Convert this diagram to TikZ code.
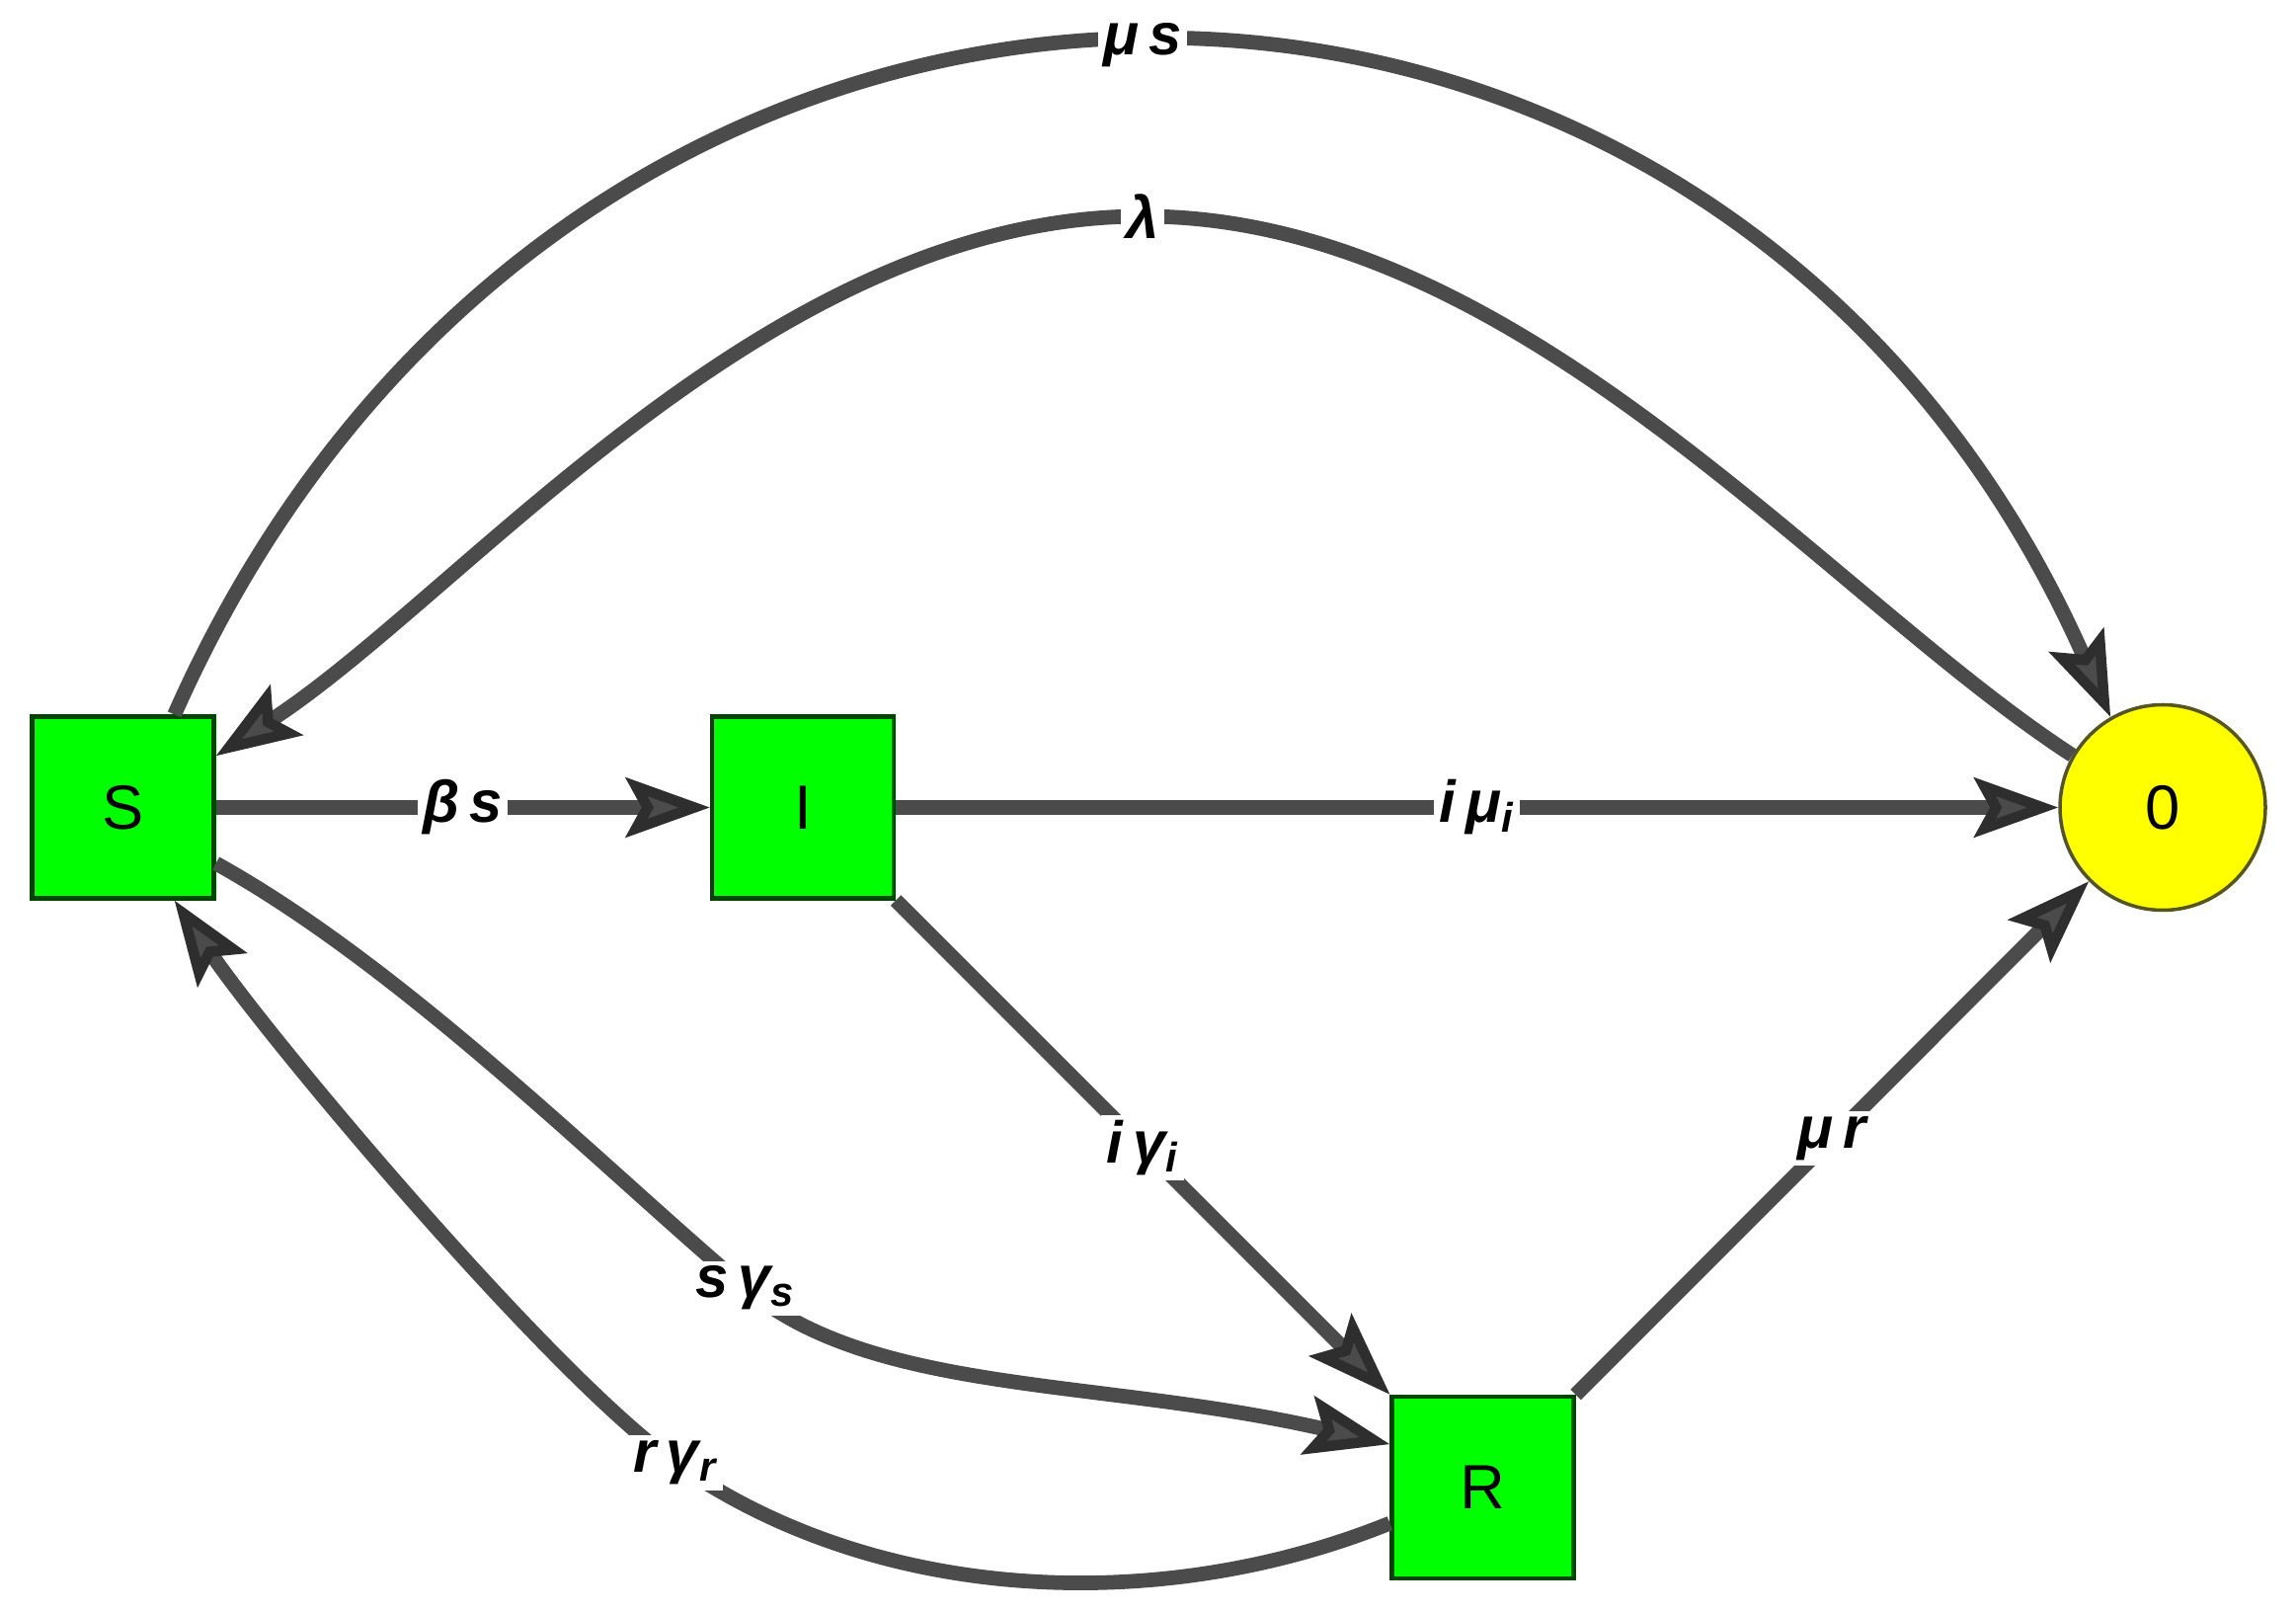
\documentclass[tikz,border=0pt]{standalone}
\usepackage{fontspec}
\setmainfont{Liberation Sans}
\setsansfont{Liberation Sans}
\usetikzlibrary{arrows.meta,positioning}

\definecolor{boxgreen}{RGB}{0,255,0}
\definecolor{boxedge}{RGB}{0,70,0}
\definecolor{sinkyellow}{RGB}{255,255,0}
\definecolor{sinkedge}{RGB}{85,85,30}
\definecolor{flowgray}{RGB}{75,75,75}

\begin{document}
\begin{tikzpicture}[node distance=6.885cm,on grid,
    >={Stealth[length=0.85cm,width=0.6cm,inset=0.16cm,line width=3pt,color=black!82,fill=flowgray]},
    compartment/.style={draw=boxedge,line width=1.2pt,fill=boxgreen,minimum size=1.84cm,font=\fontsize{18}{20}\selectfont},
    sink/.style={circle,draw=sinkedge,line width=1pt,fill=sinkyellow,minimum size=2.08cm,font=\fontsize{18}{20}\selectfont},
    flow/.style={->,draw=flowgray,line width=4.2pt},
    rate/.style={fill=white,inner sep=1.5pt,font=\bfseries\itshape\fontsize{17}{20}\selectfont}]
    \useasboundingbox (0,0) rectangle (23.25,16.31);

    \node[compartment] (S) at (1.245,8.135) {S};
    \node[compartment] (I) [right=of S]                        {I};
    \node[compartment] (R) [below right=6.885cm and 6.885cm of I] {R};
    \node[sink]        (Z) [right=13.77cm of I]                {0};

    % straight flows
    \draw[flow] (S) -- node[rate] {β\,s} (I);
    \draw[flow] (I) -- node[rate] {i\,μ\textsubscript{i}} (Z);
    \draw[flow] (I) -- node[rate] {i\,γ\textsubscript{i}} (R);
    \draw[flow] (R) -- node[rate] {μ\,r} (Z);

    % curved flows
    \coordinate (lampeak) at (11.57,14.12);
    \coordinate (sgs)     at (7.55,3.27);
    \coordinate (rgr)     at (6.84,1.50);

    \draw[flow] (S.61) .. controls +(4.0,9.05) and +(-4.0,9.05) .. node[rate] {μ\,s} (Z.120);
    \draw[flow] (Z.150) .. controls +(147:3) and +(3.8,0) .. (lampeak) node[rate] {λ}
                        .. controls +(-3.8,0) and +(33:3) .. (S.29);
    \draw[flow] (S.-31) .. controls +(-29:2.2) and +(140:1.8) .. (sgs) node[rate] {s\,γ\textsubscript{s}}
                        .. controls +(-40:1.7) and +(167:3) .. (R.155);
    \draw[flow] (R.201) .. controls +(202:2.5) and +(-35:2.5) .. (rgr) node[rate] {r\,γ\textsubscript{r}}
                        .. controls +(145:1.5) and +(-55.5:1.8) .. (S.-61);
\end{tikzpicture}
\end{document}
